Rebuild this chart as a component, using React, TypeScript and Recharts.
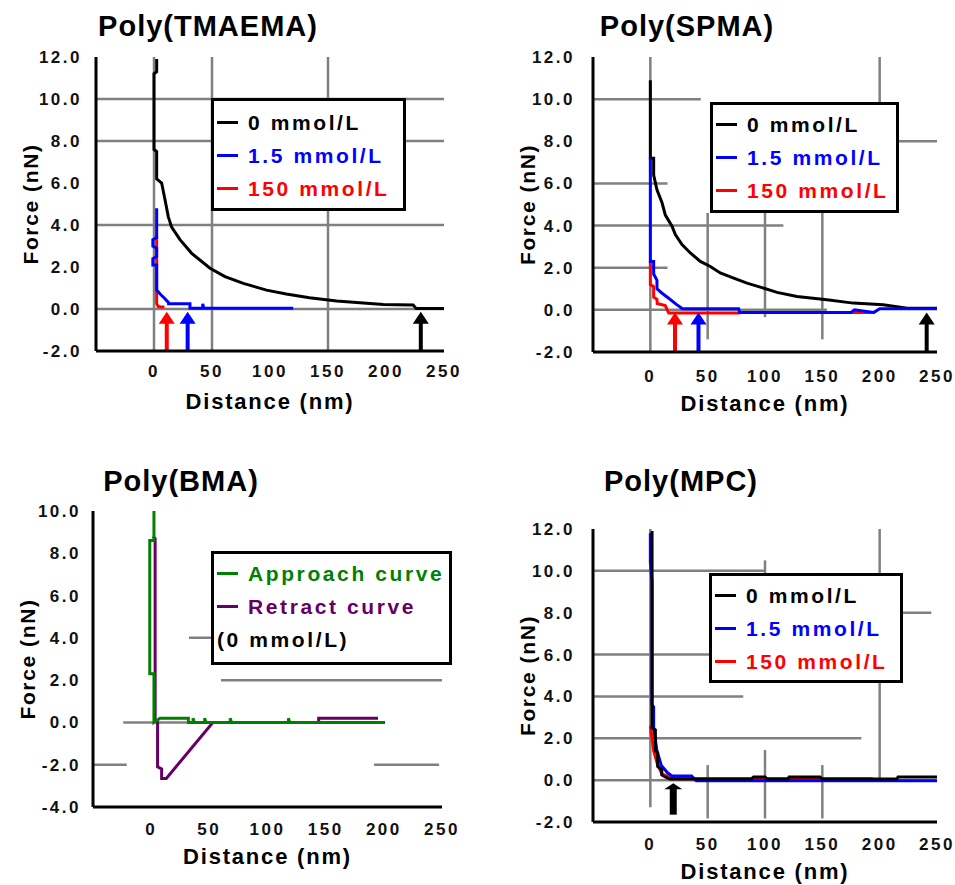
import React from "react";
import { LineChart, Line, XAxis, YAxis, ReferenceLine, Legend, Label } from "recharts";

const FONT = '"Liberation Sans", Arial, sans-serif';

const xTicks = [0, 50, 100, 150, 200, 250];
const yTicksA = [-2, 0, 2, 4, 6, 8, 10, 12];
const yTicksB = [-4, -2, 0, 2, 4, 6, 8, 10];

const saltNames = ["0 mmol/L", "1.5 mmol/L", "150 mmol/L"];
const curveNames = ["Approach curve", "Retract curve"];

// Poly(TMAEMA)
const tmaema0Dist = [2.3, 2.3, 0, 0, 2.3, 2.3, 6.6, 9.5, 12.3, 15.2, 22.4, 32.5, 48.3, 61.2, 77, 97, 114, 134, 157.5, 197.7, 223.5, 226, 250];
const tmaema0Force = [11.9, 11.3, 11.2, 7.6, 7.5, 6.2, 6.0, 5.2, 4.4, 3.9, 3.3, 2.65, 1.94, 1.54, 1.22, 0.9, 0.71, 0.54, 0.38, 0.22, 0.19, 0.02, 0.02];
const tmaema15Dist = [2.3, 2.3, -1, -1, 2.3, 2.3, -1, -1, 2.3, 2.3, 5.5, 8.4, 12.6, 12.6, 31, 31, 42, 42, 43, 120];
const tmaema15Force = [4.8, 3.4, 3.3, 3.0, 2.9, 2.5, 2.4, 2.1, 2.1, 0.9, 0.7, 0.55, 0.3, 0.25, 0.25, 0.03, 0.03, 0.25, 0.03, 0.03];
const tmaema150Dist = [2.3, 2.3, 3.5, 6, 9];
const tmaema150Force = [3.5, 0.25, 0.12, 0.1, 0.1];
const tmaemaArrows = [11, 29, 230];

// Poly(SPMA)
const spma0Dist = [0, 0, 2.9, 2.9, 5.8, 10.2, 13.1, 18.9, 21.8, 27.6, 34.9, 43.6, 52.3, 61, 72.7, 84.3, 95.9, 110.5, 127.9, 154, 177, 203, 224, 250];
const spma0Force = [10.9, 7.2, 7.2, 6.4, 5.7, 5.08, 4.5, 3.97, 3.57, 3.1, 2.7, 2.3, 2.06, 1.75, 1.51, 1.27, 1.08, 0.83, 0.63, 0.48, 0.32, 0.24, 0.08, 0.08];
const spma15Dist = [0, 0, 2.9, 2.9, 5.8, 5.8, 10, 16, 23, 28, 77, 78, 175, 178, 195, 200, 250];
const spma15Force = [7.2, 2.3, 2.3, 1.7, 1.4, 1.0, 0.8, 0.55, 0.25, 0.05, 0.05, -0.12, -0.12, 0.0, -0.12, 0.05, 0.05];
const spma150Dist = [0, 0, 2.9, 2.9, 5.8, 6, 13, 16, 77, 80, 194];
const spma150Force = [2.3, 1.2, 1.1, 0.6, 0.5, 0.3, 0.2, -0.15, -0.15, -0.12, -0.12];
const spmaArrows = [21.5, 42, 241];

// Poly(BMA)
const bmaApproachDist = [2.4, 2.4, -1.2, -1.2, 2.4, 2.4, 7.6, 32, 32, 36, 36, 37, 46, 46, 47, 68, 68, 69, 118, 118, 119, 201];
const bmaApproachForce = [10, 8.6, 8.6, 2.3, 2.3, 0, 0.2, 0.2, 0, 0, 0.2, 0, 0, 0.2, 0, 0, 0.2, 0, 0, 0.2, 0, 0];
const bmaRetractDist = [1.5, 3.4, 3.4, 5.5, 5.5, 9, 9, 13, 53, 144, 144, 195];
const bmaRetractForce = [8.8, 8.7, 0.1, 0, -2.1, -2.2, -2.65, -2.65, 0, 0, 0.2, 0.2];

// Poly(MPC)
const mpc0Dist = [1.5, 1.5, 4.4, 4.4, 6.4, 6.4, 10, 10, 13, 17, 88, 90, 100, 102, 120, 121, 148, 150, 215, 216, 250];
const mpc0Force = [11.9, 2.5, 2.4, 1.4, 1.3, 0.65, 0.5, 0.25, 0.15, 0.05, 0.05, 0.15, 0.15, 0.05, 0.05, 0.15, 0.15, 0.05, 0.05, 0.15, 0.15];
const mpc15Dist = [0, 0, 1.5, 1.5, 2.9, 2.9, 5.8, 9.6, 15, 19, 36, 40, 250];
const mpc15Force = [11.8, 10.4, 9.5, 3.6, 3.5, 2.5, 1.4, 0.7, 0.35, 0.2, 0.2, -0.03, -0.03];
const mpc150Dist = [0, 1.5, 2.9, 6, 10, 20, 194];
const mpc150Force = [2.6, 2.0, 1.4, 0.8, 0.3, 0.07, 0.07];
const mpcArrows = [20];

type Series = { name: string; color: string; dist: number[]; force: number[] };

const BLACK = "#000000";
const BLUE = "#0000ff";
const RED = "#ff0000";
const GREEN = "#008000";
const PURPLE = "#660066";
const GRID = "#808080";

const zip = (dist: number[], force: number[]) => dist.map((d, i) => ({ d, f: force[i] }));

function ArrowShape(props: any) {
  const { x1, y1, y2, color, headW, headH, shaftW } = props;
  const top = Math.min(y1, y2);
  const bottom = Math.max(y1, y2);
  return (
    <g>
      <line x1={x1} y1={bottom} x2={x1} y2={top + headH - 1} stroke={color} strokeWidth={shaftW} />
      <polygon points={`${x1},${top} ${x1 - headW / 2},${top + headH} ${x1 + headW / 2},${top + headH}`} fill={color} />
    </g>
  );
}

type PanelProps = {
  x: number; y: number; w: number; h: number;
  L: number; T: number; R: number; B: number;
  yDomain: [number, number]; yTicks: number[];
  series: Series[]; legendItems: Series[]; legendExtra?: string;
  legend: { x: number; y: number; w: number; h: number; pad: number };
  arrows: { d: number; color: string }[]; arrowTip: number; arrowBase: number;
  arrowSize: { headW: number; headH: number; shaftW: number };
  fullX: number[]; fullY: number[]; segs: number[][];
  title: string; titleX: number; titleBase: number;
  yGap: number; xGap: number; xLabelOffset: number;
};

function Panel(p: PanelProps) {
  const yw = 60;
  const xh = 40;
  const margin = {
    left: p.L - p.x - yw,
    top: p.T - p.y,
    right: p.x + p.w - p.R,
    bottom: p.y + p.h - p.B - xh,
  };
  const tickStyle = { fontSize: 17, fontWeight: "bold", fill: "#111", fontFamily: FONT, letterSpacing: 2.5 };
  const labelStyle = { fontSize: 21, fontWeight: "bold", fill: "#000", fontFamily: FONT, letterSpacing: 1.6 };
  const fs = 29;

  const legendContent = () => (
    <div
      style={{
        boxSizing: "border-box", width: p.legend.w, height: p.legend.h, border: "3px solid #000",
        background: "#fff", paddingTop: p.legend.pad, fontFamily: FONT, fontWeight: "bold",
        fontSize: 21, letterSpacing: 2.6, whiteSpace: "nowrap",
      }}
    >
      {p.legendItems.map((s) => (
        <div key={s.name} style={{ display: "flex", alignItems: "center", height: 33, color: s.color }}>
          <span style={{ display: "inline-block", width: 21, height: 3, background: s.color, marginLeft: 3, marginRight: 10 }} />
          <span>{s.name}</span>
        </div>
      ))}
      {p.legendExtra && (
        <div style={{ display: "flex", alignItems: "center", height: 33, marginLeft: 3, color: "#000" }}>{p.legendExtra}</div>
      )}
    </div>
  );

  return (
    <div style={{ position: "absolute", left: p.x, top: p.y, width: p.w, height: p.h }}>
      <LineChart width={p.w} height={p.h} margin={margin}>
        <XAxis
          type="number" dataKey="d" domain={[-50, 250]} ticks={xTicks} interval={0} allowDataOverflow
          height={xh} axisLine={{ stroke: "#000", strokeWidth: 3 }} tickLine={false}
          tickSize={p.xGap - 2} tick={tickStyle}
        >
          <Label value="Distance (nm)" position="bottom" offset={p.xLabelOffset} {...labelStyle} fontSize={22} letterSpacing={1.8} />
        </XAxis>
        <YAxis
          type="number" domain={p.yDomain} ticks={p.yTicks} interval={0} allowDataOverflow
          width={yw} axisLine={{ stroke: "#000", strokeWidth: 3 }} tickLine={false}
          tickSize={p.yGap - 2} tick={tickStyle} tickFormatter={(v: number) => v.toFixed(1)}
        >
          <Label value="Force (nN)" position="insideLeft" offset={-5} angle={-90} {...labelStyle} style={{ textAnchor: "middle" }} />
        </YAxis>
        {p.fullX.map((v) => (
          <ReferenceLine key={`gx${v}`} x={v} stroke={GRID} strokeWidth={2.5} />
        ))}
        {p.fullY.map((v) => (
          <ReferenceLine key={`gy${v}`} y={v} stroke={GRID} strokeWidth={2.5} />
        ))}
        {p.segs.map((s, i) => (
          <ReferenceLine key={`gs${i}`} segment={[{ x: s[0], y: s[1] }, { x: s[2], y: s[3] }]} stroke={GRID} strokeWidth={2.5} />
        ))}
        {p.series.map((s) => (
          <Line
            key={s.name} name={s.name} data={zip(s.dist, s.force)} dataKey="f" type="linear"
            stroke={s.color} strokeWidth={3} dot={false} isAnimationActive={false}
          />
        ))}
        {p.arrows.map((a, i) => (
          <ReferenceLine
            key={`ar${i}`}
            segment={[{ x: a.d, y: p.arrowBase }, { x: a.d, y: p.arrowTip }]}
            shape={(sp: any) => <ArrowShape {...sp} color={a.color} {...p.arrowSize} />}
          />
        ))}
        <Legend
          layout="vertical" align="center" verticalAlign="middle"
          wrapperStyle={{ left: p.legend.x - p.x, top: p.legend.y - p.y, width: p.legend.w, height: p.legend.h }}
          content={legendContent}
        />
      </LineChart>
      <div
        style={{
          position: "absolute", left: p.titleX - p.x - 200, width: 400, textAlign: "center",
          top: p.titleBase - p.y - 0.85 * fs, fontSize: fs, lineHeight: `${fs}px`, fontWeight: "bold",
          fontFamily: FONT, letterSpacing: 1, whiteSpace: "nowrap", color: "#000",
        }}
      >
        {p.title}
      </div>
    </div>
  );
}

export default function App() {
  const tm0: Series = { name: saltNames[0], color: BLACK, dist: tmaema0Dist, force: tmaema0Force };
  const tm15: Series = { name: saltNames[1], color: BLUE, dist: tmaema15Dist, force: tmaema15Force };
  const tm150: Series = { name: saltNames[2], color: RED, dist: tmaema150Dist, force: tmaema150Force };

  const sp0: Series = { name: saltNames[0], color: BLACK, dist: spma0Dist, force: spma0Force };
  const sp15: Series = { name: saltNames[1], color: BLUE, dist: spma15Dist, force: spma15Force };
  const sp150: Series = { name: saltNames[2], color: RED, dist: spma150Dist, force: spma150Force };

  const bmA: Series = { name: curveNames[0], color: GREEN, dist: bmaApproachDist, force: bmaApproachForce };
  const bmR: Series = { name: curveNames[1], color: PURPLE, dist: bmaRetractDist, force: bmaRetractForce };

  const mp0: Series = { name: saltNames[0], color: BLACK, dist: mpc0Dist, force: mpc0Force };
  const mp15: Series = { name: saltNames[1], color: BLUE, dist: mpc15Dist, force: mpc15Force };
  const mp150: Series = { name: saltNames[2], color: RED, dist: mpc150Dist, force: mpc150Force };

  const saltColors = [RED, BLUE, BLACK];
  const thin = { headW: 16, headH: 12, shaftW: 4 };

  return (
    <div style={{ position: "absolute", left: 0, top: 0, width: 955, height: 885, background: "#fff", overflow: "hidden" }}>
      <Panel
        x={0} y={0} w={478} h={440} L={96} T={57} R={444} B={351}
        yDomain={[-2, 12]} yTicks={yTicksA}
        series={[tm0, tm150, tm15]} legendItems={[tm0, tm15, tm150]}
        legend={{ x: 211, y: 98, w: 195, h: 113, pad: 5 }}
        arrows={tmaemaArrows.map((d, i) => ({ d, color: saltColors[i] }))} arrowTip={-0.13} arrowBase={-2}
        arrowSize={thin}
        fullX={[0, 50, 150]} fullY={[10, 8, 4, 0]} segs={[]}
        title="Poly(TMAEMA)" titleX={208} titleBase={37}
        yGap={14} xGap={14} xLabelOffset={2}
      />
      <Panel
        x={477} y={0} w={478} h={440} L={593} T={57} R={937} B={352}
        yDomain={[-2, 12]} yTicks={yTicksA}
        series={[sp0, sp150, sp15]} legendItems={[sp0, sp15, sp150]}
        legend={{ x: 710, y: 102, w: 189, h: 111, pad: 3 }}
        arrows={spmaArrows.map((d, i) => ({ d, color: saltColors[i] }))} arrowTip={-0.13} arrowBase={-2}
        arrowSize={thin}
        fullX={[0]} fullY={[]}
        segs={[
          [50, 4.6, 50, -1.4], [100, 4.6, 100, -0.35], [150, 4.6, 150, -1.4], [200, 12, 200, 9],
          [-50, 10, 44, 10], [150, 8, 250, 8], [-50, 6, 15, 6], [-50, 4, 116, 4], [-50, 2, 15, 2], [-50, 0, 154, 0],
        ]}
        title="Poly(SPMA)" titleX={687} titleBase={37}
        yGap={18} xGap={18} xLabelOffset={3}
      />
      <Panel
        x={0} y={445} w={478} h={440} L={93} T={511} R={442} B={807}
        yDomain={[-4, 10]} yTicks={yTicksB}
        series={[bmR, bmA]} legendItems={[bmA, bmR]} legendExtra="(0 mmol/L)"
        legend={{ x: 211, y: 551, w: 241, h: 114, pad: 3 }}
        arrows={[]} arrowTip={0} arrowBase={-2} arrowSize={thin}
        fullX={[]} fullY={[]}
        segs={[
          [-24, 0, 200, 0], [-50, -2, -21, -2], [191.6, -2, 247.5, -2], [60, 2, 250, 2], [32.5, 4, 250, 4],
        ]}
        title="Poly(BMA)" titleX={181} titleBase={492}
        yGap={12} xGap={16} xLabelOffset={1}
      />
      <Panel
        x={477} y={445} w={478} h={440} L={593} T={529} R={937} B={822}
        yDomain={[-2, 12]} yTicks={yTicksA}
        series={[mp150, mp15, mp0]} legendItems={[mp0, mp15, mp150]}
        legend={{ x: 709, y: 573, w: 194, h: 110, pad: 3 }}
        arrows={mpcArrows.map((d) => ({ d, color: BLACK }))} arrowTip={-0.15} arrowBase={-1.65}
        arrowSize={{ headW: 18, headH: 6, shaftW: 7 }}
        fullX={[]} fullY={[]}
        segs={[
          [0, 12, 0, -1.3], [50, 0.72, 50, -1.83], [100, 10.5, 100, 5], [100, 1.44, 100, -1.83],
          [150, 0.72, 150, -1.83], [200, 12, 200, 0.1],
          [-50, 10, 100, 10], [150, 8, 245, 8], [-50, 6, 100, 6], [-50, 4, 81, 4], [-50, 2, 184, 2], [-50, 0, 250, 0],
        ]}
        title="Poly(MPC)" titleX={681} titleBase={492}
        yGap={18} xGap={16} xLabelOffset={1}
      />
    </div>
  );
}
